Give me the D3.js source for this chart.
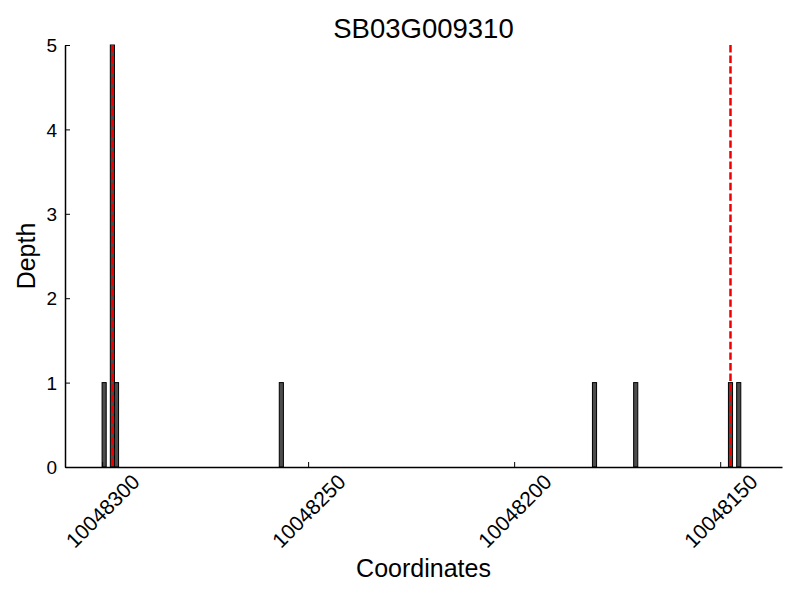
<!DOCTYPE html>
<html>
<head>
<meta charset="utf-8">
<script src="https://cdn.jsdelivr.net/npm/d3@7"></script>
<style>
  html, body { margin: 0; padding: 0; background: #fff; }
  text { font-family: "Liberation Sans", Arial, sans-serif; fill: #000; }
</style>
</head>
<body>
<svg id="chart" width="800" height="600"></svg>
<script>
const title = "SB03G009310";
// bar start coordinates (each bar spans [start, start+1])
const positions = [10048299, 10048297, 10048296, 10048256, 10048180, 10048170, 10048147, 10048145];
const depths    = [1, 5, 1, 1, 1, 1, 1, 1];
const markerLines = [10048297.5, 10048147.5];
const xTicks = [10048300, 10048250, 10048200, 10048150];
const yTicks = [0, 1, 2, 3, 4, 5];

const svg = d3.select("#chart");
const mLeft = 65, mRight = 782, mTop = 45, mBottom = 467;

const x = d3.scaleLinear().domain([10048309, 10048135]).range([mLeft, mRight]);
const y = d3.scaleLinear().domain([0, 5]).range([mBottom, mTop]);

// bars
svg.append("g").selectAll("rect")
  .data(positions.map((p, i) => ({p, d: depths[i]})))
  .join("rect")
  .attr("x", d => x(d.p + 1))
  .attr("width", d => x(d.p) - x(d.p + 1))
  .attr("y", d => y(d.d))
  .attr("height", d => y(0) - y(d.d))
  .attr("fill", "#4d4d4d")
  .attr("stroke", "#000")
  .attr("stroke-width", 1);

// red dashed lines
svg.append("g").selectAll("line")
  .data(markerLines)
  .join("line")
  .attr("x1", d => x(d)).attr("x2", d => x(d))
  .attr("y1", y(5)).attr("y2", y(0))
  .attr("stroke", "#ee0000")
  .attr("stroke-width", 2.5)
  .attr("stroke-dasharray", "7.4,3.2");

// x axis
const xAxis = d3.axisBottom(x).tickValues(xTicks).tickSizeInner(-5).tickSizeOuter(0).tickFormat(d3.format("d"));
const gx = svg.append("g").attr("transform", `translate(0,${mBottom})`).call(xAxis);
gx.select(".domain").attr("stroke", "#000").attr("stroke-width", 1.5);
gx.selectAll(".tick line").attr("stroke", "#000").attr("stroke-width", 1);
gx.selectAll(".tick text")
  .attr("font-size", 21)
  .attr("text-anchor", "middle")
  .attr("dominant-baseline", "central")
  .attr("y", 0).attr("dy", null)
  .attr("transform", "translate(0,44) rotate(-45)");

// y axis
const yAxis = d3.axisLeft(y).tickValues(yTicks).tickSizeInner(-5).tickSizeOuter(0).tickFormat(d3.format("d"));
const gy = svg.append("g").attr("transform", `translate(${mLeft},0)`).call(yAxis);
gy.select(".domain").attr("stroke", "#000").attr("stroke-width", 1.5);
gy.selectAll(".tick line").attr("stroke", "#000").attr("stroke-width", 1);
gy.selectAll(".tick text").attr("font-size", 19).attr("x", -8).attr("dy", "0.35em");

// titles
svg.append("text").attr("x", (mLeft + mRight) / 2).attr("y", 38)
  .attr("text-anchor", "middle").attr("font-size", 27.5).text(title);
svg.append("text").attr("x", (mLeft + mRight) / 2).attr("y", 577)
  .attr("text-anchor", "middle").attr("font-size", 25).text("Coordinates");
svg.append("text").attr("transform", `translate(35,${(mTop + mBottom) / 2}) rotate(-90)`)
  .attr("text-anchor", "middle").attr("font-size", 25).text("Depth");
</script>
</body>
</html>
